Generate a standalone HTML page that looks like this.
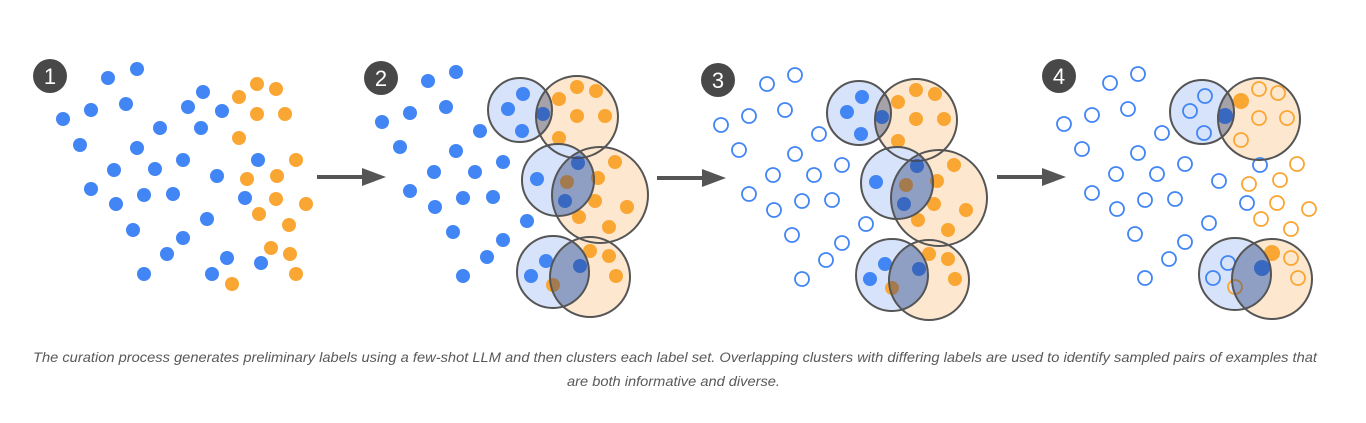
<!DOCTYPE html>
<html><head><meta charset="utf-8"><style>
html,body{margin:0;padding:0;background:#fff;}
svg{display:block;}
</style></head><body>
<svg width="1366" height="423" viewBox="0 0 1366 423" xmlns="http://www.w3.org/2000/svg" xmlns:xlink="http://www.w3.org/1999/xlink">
<defs>
<g id="p1b">
<circle cx="108" cy="78" r="7"/><circle cx="137" cy="69" r="7"/><circle cx="203" cy="92" r="7"/><circle cx="188" cy="107" r="7"/><circle cx="222" cy="111" r="7"/><circle cx="126" cy="104" r="7"/><circle cx="91" cy="110" r="7"/><circle cx="63" cy="119" r="7"/><circle cx="160" cy="128" r="7"/><circle cx="201" cy="128" r="7"/><circle cx="80" cy="145" r="7"/><circle cx="137" cy="148" r="7"/><circle cx="183" cy="160" r="7"/><circle cx="258" cy="160" r="7"/><circle cx="114" cy="170" r="7"/><circle cx="155" cy="169" r="7"/><circle cx="217" cy="176" r="7"/><circle cx="91" cy="189" r="7"/><circle cx="144" cy="195" r="7"/><circle cx="173" cy="194" r="7"/><circle cx="245" cy="198" r="7"/><circle cx="116" cy="204" r="7"/><circle cx="207" cy="219" r="7"/><circle cx="133" cy="230" r="7"/><circle cx="183" cy="238" r="7"/><circle cx="167" cy="254" r="7"/><circle cx="227" cy="258" r="7"/><circle cx="261" cy="263" r="7"/><circle cx="144" cy="274" r="7"/><circle cx="212" cy="274" r="7"/>
</g>
<g id="p1o">
<circle cx="257" cy="84" r="7"/><circle cx="276" cy="89" r="7"/><circle cx="239" cy="97" r="7"/><circle cx="257" cy="114" r="7"/><circle cx="285" cy="114" r="7"/><circle cx="239" cy="138" r="7"/><circle cx="296" cy="160" r="7"/><circle cx="277" cy="176" r="7"/><circle cx="247" cy="179" r="7"/><circle cx="276" cy="199" r="7"/><circle cx="306" cy="204" r="7"/><circle cx="259" cy="214" r="7"/><circle cx="289" cy="225" r="7"/><circle cx="271" cy="248" r="7"/><circle cx="290" cy="254" r="7"/><circle cx="296" cy="274" r="7"/><circle cx="232" cy="284" r="7"/>
</g>
<g id="fb">
<circle cx="428" cy="81" r="7"/><circle cx="456" cy="72" r="7"/><circle cx="382" cy="122" r="7"/><circle cx="410" cy="113" r="7"/><circle cx="446" cy="107" r="7"/><circle cx="480" cy="131" r="7"/><circle cx="400" cy="147" r="7"/><circle cx="456" cy="151" r="7"/><circle cx="503" cy="162" r="7"/><circle cx="434" cy="172" r="7"/><circle cx="475" cy="172" r="7"/><circle cx="410" cy="191" r="7"/><circle cx="463" cy="198" r="7"/><circle cx="493" cy="197" r="7"/><circle cx="435" cy="207" r="7"/><circle cx="527" cy="221" r="7"/><circle cx="453" cy="232" r="7"/><circle cx="503" cy="240" r="7"/><circle cx="487" cy="257" r="7"/><circle cx="463" cy="276" r="7"/>
</g>
<g id="cb">
<circle cx="523" cy="94" r="7"/><circle cx="508" cy="109" r="7"/><circle cx="522" cy="131" r="7"/><circle cx="543" cy="114" r="7"/>
<circle cx="537" cy="179" r="7"/><circle cx="578" cy="163" r="7"/><circle cx="565" cy="201" r="7"/>
<circle cx="546" cy="261" r="7"/><circle cx="580" cy="266" r="7"/><circle cx="531" cy="276" r="7"/>
</g>
<g id="co">
<circle cx="577" cy="87" r="7"/><circle cx="596" cy="91" r="7"/><circle cx="559" cy="99" r="7"/><circle cx="577" cy="116" r="7"/><circle cx="605" cy="116" r="7"/><circle cx="559" cy="138" r="7"/>
<circle cx="567" cy="182" r="7"/><circle cx="615" cy="162" r="7"/><circle cx="598" cy="178" r="7"/><circle cx="595" cy="201" r="7"/><circle cx="627" cy="207" r="7"/><circle cx="579" cy="217" r="7"/><circle cx="609" cy="227" r="7"/>
<circle cx="553" cy="285" r="7"/><circle cx="590" cy="251" r="7"/><circle cx="609" cy="256" r="7"/><circle cx="616" cy="276" r="7"/>
</g>
<clipPath id="cT"><circle cx="520" cy="110" r="32"/></clipPath>
<clipPath id="cM"><circle cx="558" cy="180" r="36"/></clipPath>
<clipPath id="cB"><circle cx="553" cy="272" r="36"/></clipPath>
<g id="fillT"><circle cx="520" cy="110" r="32" fill="#d6e3fb"/><circle cx="577" cy="117" r="41" fill="#fde8cf"/></g>
<g id="fillM"><circle cx="600" cy="195" r="48" fill="#fde8cf"/><circle cx="558" cy="180" r="36" fill="#d6e3fb"/></g>
<g id="fillB"><circle cx="590" cy="277" r="40" fill="#fde8cf"/><circle cx="553" cy="272" r="36" fill="#d6e3fb"/></g>
<g id="ovT"><circle cx="577" cy="117" r="41" fill="rgba(45,65,120,0.42)" clip-path="url(#cT)"/><circle cx="520" cy="110" r="32" fill="none" stroke="#555" stroke-width="2"/><circle cx="577" cy="117" r="41" fill="none" stroke="#555" stroke-width="2"/></g>
<g id="ovM"><circle cx="600" cy="195" r="48" fill="rgba(45,65,120,0.42)" clip-path="url(#cM)"/><circle cx="558" cy="180" r="36" fill="none" stroke="#555" stroke-width="2"/><circle cx="600" cy="195" r="48" fill="none" stroke="#555" stroke-width="2"/></g>
<g id="ovB"><circle cx="590" cy="277" r="40" fill="rgba(45,65,120,0.42)" clip-path="url(#cB)"/><circle cx="553" cy="272" r="36" fill="none" stroke="#555" stroke-width="2"/><circle cx="590" cy="277" r="40" fill="none" stroke="#555" stroke-width="2"/></g>
</defs>

<!-- Panel 1 -->
<circle cx="50" cy="76" r="17" fill="#484848"/>
<text x="50" y="84" text-anchor="middle" font-family="Liberation Sans, sans-serif" font-size="22" fill="#fff">1</text>
<use xlink:href="#p1b" fill="#4285f4"/>
<use xlink:href="#p1o" fill="#faa633"/>

<!-- arrows -->
<g fill="#555" stroke="#555">
<line x1="317" y1="177" x2="366" y2="177" stroke-width="4"/><polygon points="362,168 386,177 362,186" stroke="none"/>
<line x1="657" y1="178" x2="706" y2="178" stroke-width="4"/><polygon points="702,169 726,178 702,187" stroke="none"/>
<line x1="997" y1="177" x2="1046" y2="177" stroke-width="4"/><polygon points="1042,168 1066,177 1042,186" stroke="none"/>
</g>

<!-- Panel 2 -->
<circle cx="381" cy="78" r="17" fill="#484848"/>
<text x="381" y="86" text-anchor="middle" font-family="Liberation Sans, sans-serif" font-size="22" fill="#fff">2</text>
<g>
<use xlink:href="#fillT"/><use xlink:href="#fillM"/><use xlink:href="#fillB"/>
<use xlink:href="#fb" fill="#4285f4"/>
<use xlink:href="#cb" fill="#4285f4"/>
<use xlink:href="#co" fill="#faa633"/>
<use xlink:href="#ovT"/><use xlink:href="#ovM"/><use xlink:href="#ovB"/>
</g>

<!-- Panel 3 -->
<circle cx="718" cy="80" r="17" fill="#484848"/>
<text x="718" y="88" text-anchor="middle" font-family="Liberation Sans, sans-serif" font-size="22" fill="#fff">3</text>
<g transform="translate(339,3)">
<use xlink:href="#fillT"/><use xlink:href="#fillM"/><use xlink:href="#fillB"/>
<use xlink:href="#fb" fill="#fff" stroke="#4285f4" stroke-width="1.8" transform="translate(0,0)"/>
<use xlink:href="#cb" fill="#4285f4"/>
<use xlink:href="#co" fill="#faa633"/>
<use xlink:href="#ovT"/><use xlink:href="#ovM"/><use xlink:href="#ovB"/>
</g>

<!-- Panel 4 -->
<circle cx="1059" cy="76" r="17" fill="#484848"/>
<text x="1059" y="84" text-anchor="middle" font-family="Liberation Sans, sans-serif" font-size="22" fill="#fff">4</text>
<g transform="translate(682,2)">
<use xlink:href="#fillT"/><use xlink:href="#fillB"/>
<use xlink:href="#fb" fill="none" stroke="#4285f4" stroke-width="1.8"/>
<use xlink:href="#cb" fill="none" stroke="#4285f4" stroke-width="1.8"/>
<use xlink:href="#co" fill="none" stroke="#faa633" stroke-width="1.8"/>
<circle cx="543" cy="114" r="7" fill="#4285f4" stroke="#4285f4" stroke-width="1.8"/>
<circle cx="559" cy="99" r="7" fill="#faa633" stroke="#faa633" stroke-width="1.8"/>
<circle cx="580" cy="266" r="7" fill="#4285f4" stroke="#4285f4" stroke-width="1.8"/>
<circle cx="590" cy="251" r="7" fill="#faa633" stroke="#faa633" stroke-width="1.8"/>
<use xlink:href="#ovT"/><use xlink:href="#ovB"/>
</g>

<!-- caption -->
<g font-family="Liberation Sans, sans-serif" font-style="italic" font-size="14" fill="#595959">
<text x="33" y="362" textLength="1284" lengthAdjust="spacingAndGlyphs">The curation process generates preliminary labels using a few-shot LLM and then clusters each label set. Overlapping clusters with differing labels are used to identify sampled pairs of examples that</text>
<text x="567" y="386" textLength="213" lengthAdjust="spacingAndGlyphs">are both informative and diverse.</text>
</g>
</svg>
</body></html>
